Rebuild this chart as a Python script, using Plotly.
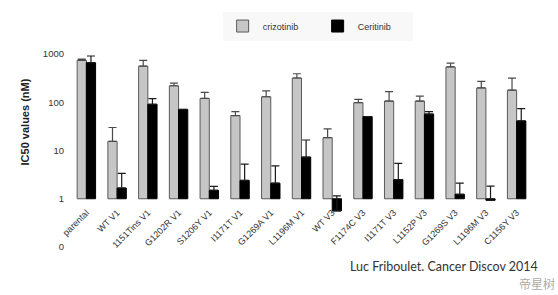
import plotly.graph_objects as go

categories = ["parental", "WT V1", "1151Tins V1", "G1202R V1", "S1206Y V1", "I1171T V1",
              "G1269A V1", "L1196M V1", "WT V3", "F1174C V3", "I1171T V3", "L1152P V3",
              "G1269S V3", "L1196M V3", "C1156Y V3"]
crizotinib = [740, 15.5, 560, 220, 120, 53, 130, 318, 18.5, 98, 106, 106, 540, 198, 178]
crizotinib_err = [40, 14.5, 180, 30, 40, 11, 42, 72, 9.5, 17, 60, 28, 110, 72, 137]
ceritinib = [660, 1.67, 91, 71, 1.5, 2.4, 2.1, 7.3, 0.56, 50.5, 2.5, 57, 1.24, 0.93, 41]
ceritinib_err = [250, 1.7, 28, 0, 0.3, 2.8, 2.7, 9.2, 0.59, 0, 2.9, 7, 0.86, 0.9, 33]
y_tickvals = [0.1, 1, 10, 100, 1000]
y_ticktext = ["0", "1", "10", "100", "1000"]

BASE = 1  # bars grow from the value 1 on the log axis

FONT = "Liberation Sans, Arial, sans-serif"

fig = go.Figure()
fig.add_trace(go.Bar(
    name="crizotinib", x=categories, y=[v - BASE for v in crizotinib], base=BASE,
    customdata=crizotinib, hovertemplate="%{x}: %{customdata} nM<extra>crizotinib</extra>",
    marker=dict(color="#c6c6c6", line=dict(color="#5a5a5a", width=1)),
    error_y=dict(type="data", array=crizotinib_err, symmetric=False, arrayminus=[0] * len(crizotinib_err),
                 color="#4a4a4a", thickness=1.2, width=4),
))
fig.add_trace(go.Bar(
    name="Ceritinib", x=categories, y=[v - BASE for v in ceritinib], base=BASE,
    customdata=ceritinib, hovertemplate="%{x}: %{customdata} nM<extra>Ceritinib</extra>",
    marker=dict(color="#000000", line=dict(color="#000000", width=1)),
    error_y=dict(type="data", array=ceritinib_err, symmetric=False, arrayminus=[0] * len(ceritinib_err),
                 color="#1a1a1a", thickness=1.2, width=4),
))

fig.update_layout(
    width=558, height=295,
    margin=dict(l=71, r=26, t=48, b=48),
    paper_bgcolor="white", plot_bgcolor="white",
    barmode="group", bargap=0.4, bargroupgap=0,
    font=dict(family=FONT, size=9, color="#333333"),
    legend=dict(orientation="h", x=0.535, xanchor="center", y=1.22, yanchor="top",
                bgcolor="#f8f8f8", font=dict(size=9, color="#333333"),
                itemwidth=30, tracegroupgap=0, entrywidth=50, entrywidthmode="pixels"),
    xaxis=dict(type="category", range=[-0.5, len(categories) - 0.5], anchor="free", position=0.25,
               showline=False, showgrid=False, zeroline=False, ticks="", tickangle=-45,
               ticklabelstandoff=6, tickfont=dict(size=9, color="#333333")),
    yaxis=dict(type="log", range=[-1, 3], tickvals=y_tickvals, ticktext=y_ticktext,
               showgrid=False, zeroline=False, showline=False, ticks="", ticklabelstandoff=6,
               tickfont=dict(size=9.5, color="#333333")),
    annotations=[
        dict(text="<b>IC50 values (nM)</b>", textangle=-90, xref="paper", yref="paper",
             x=-0.1, y=0.65, xanchor="center", yanchor="middle", showarrow=False,
             font=dict(size=11, color="#222222")),
        dict(text="Luc Friboulet. Cancer Discov 2014", xref="paper", yref="paper",
             x=0.6, y=-0.1, xanchor="left", yanchor="middle", showarrow=False,
             font=dict(family="Lato, Open Sans, sans-serif", size=12.5, color="#333333")),
        dict(text="帝星树", xref="paper", yref="paper",
             x=1.055, y=-0.19, xanchor="right", yanchor="middle", showarrow=False,
             font=dict(family="Noto Sans CJK SC", size=12, color="rgba(160,160,160,0.9)")),
    ],
)

fig.write_html("out.html")
